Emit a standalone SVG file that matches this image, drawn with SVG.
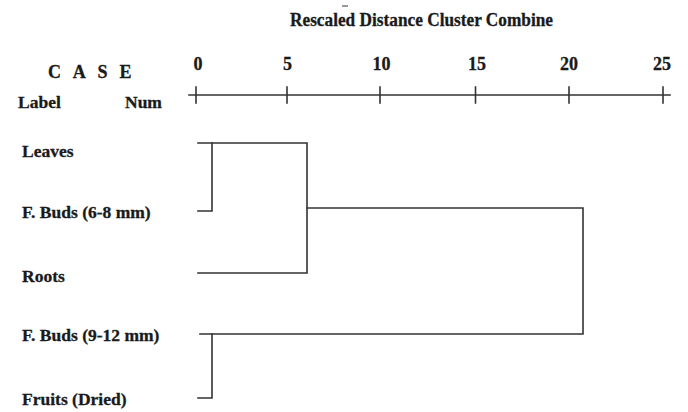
<svg xmlns="http://www.w3.org/2000/svg" width="688" height="412" viewBox="0 0 688 412">
<style>
text{font-family:"Liberation Serif","Times New Roman",serif;font-weight:bold;fill:#1a1a1a;stroke:#1a1a1a;stroke-width:0.3}
.lbl{font-size:17.5px}
.num{font-size:18px;text-anchor:middle}
.ln{stroke:#333;stroke-width:1.6;fill:none;stroke-linecap:square;stroke-linejoin:miter}
</style>
<rect width="688" height="412" fill="#fff"/>
<g id="header">
<line x1="342" y1="6" x2="348" y2="6" stroke="#333" stroke-width="1"/>
<text x="290" y="26" font-size="18" textLength="263" lengthAdjust="spacingAndGlyphs">Rescaled Distance Cluster Combine</text>
<text x="48" y="78" font-size="18" letter-spacing="11.8">CASE</text>
<text x="18" y="108" class="lbl">Label</text>
<text x="125" y="108" class="lbl">Num</text>
</g>
<g id="axis">
<text x="198" y="70" class="num">0</text>
<text x="287.5" y="70" class="num">5</text>
<text x="381.5" y="70" class="num">10</text>
<text x="477" y="70" class="num">15</text>
<text x="569" y="70" class="num">20</text>
<text x="662" y="70" class="num">25</text>
<path class="ln" d="M189 95H670" stroke-width="2"/>
<path class="ln" d="M196 87V103M287 87V103M380 87V103M475.5 87V103M569 87V103M663 87V103"/>
</g>
<g id="n-leaves"><text x="22" y="157" class="lbl">Leaves</text></g>
<g id="n-fbuds68"><text x="22" y="218" class="lbl">F. Buds (6-8 mm)</text></g>
<g id="n-roots"><text x="22" y="282" class="lbl">Roots</text></g>
<g id="n-fbuds912"><text x="22" y="341" class="lbl">F. Buds (9-12 mm)</text></g>
<g id="n-fruits"><text x="22" y="405" class="lbl">Fruits (Dried)</text></g>
<g id="connectors">
<path class="ln" d="M198 143H307V273H198"/>
<path class="ln" d="M198 211H212V143"/>
<path class="ln" d="M307 208H583V334H200"/>
<path class="ln" d="M212 334V398H198"/>
</g>
</svg>
